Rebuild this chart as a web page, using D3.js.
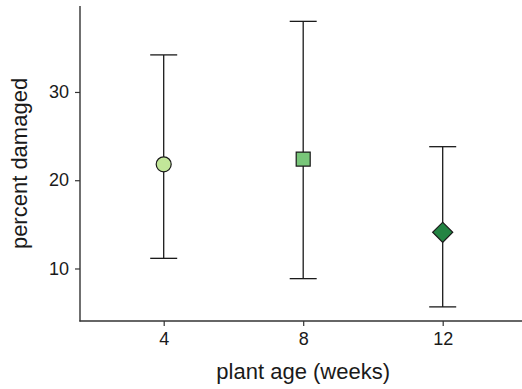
<!DOCTYPE html>
<html>
<head>
<meta charset="utf-8">
<script src="https://cdn.jsdelivr.net/npm/d3@7"></script>
<style>
  html, body { margin: 0; padding: 0; background: #fff; }
  svg { display: block; }
  text { font-family: "Liberation Sans", Arial, sans-serif; }
</style>
</head>
<body>
<svg id="chart" width="522" height="389"></svg>
<script>
const categories = ["4", "8", "12"];
const means = [21.8, 22.4, 14.1];
const lowers = [11.15, 8.85, 5.65];
const uppers = [34.2, 38.0, 23.8];
const shapes = ["circle", "square", "diamond"];
const fills = ["#c2e699", "#78c679", "#238443"];
const yTicks = [10, 20, 30];
const xTitle = "plant age (weeks)";
const yTitle = "percent damaged";

const svg = d3.select("#chart");
const mLeft = 80, mRight = 526.4, mTop = 6, mBottom = 321;

const x = d3.scalePoint().domain(categories).range([mLeft, mRight]).padding(0.6);
const y = d3.scaleLinear().domain([4.05, 39.74]).range([mBottom, mTop]);

const data = categories.map((c, i) => ({c, m: means[i], lo: lowers[i], hi: uppers[i], shape: shapes[i], fill: fills[i]}));

// axes
const xAxis = svg.append("g").attr("transform", `translate(0,${mBottom})`)
  .call(d3.axisBottom(x).tickSize(5).tickPadding(6));
const yAxis = svg.append("g").attr("transform", `translate(${mLeft},0)`)
  .call(d3.axisLeft(y).tickValues(yTicks).tickSize(5).tickPadding(6));
[xAxis, yAxis].forEach(g => {
  g.select(".domain").remove();
  g.selectAll(".tick line").attr("stroke", "#333").attr("stroke-width", 1.2);
  g.selectAll(".tick text").attr("fill", "#1a1a1a").style("font-size", "18px")
    .style("font-family", '"Liberation Sans", Arial, sans-serif');
});
// axis lines (classic theme)
svg.append("line").attr("x1", mLeft).attr("x2", mLeft).attr("y1", mTop).attr("y2", mBottom + 0.6)
  .attr("stroke", "#333").attr("stroke-width", 1.4);
svg.append("line").attr("x1", mLeft - 0.6).attr("x2", 522).attr("y1", mBottom).attr("y2", mBottom)
  .attr("stroke", "#333").attr("stroke-width", 1.4);

// error bars
const cap = 13.5;
const eb = svg.append("g");
data.forEach(d => {
  const cx = x(d.c);
  eb.append("line").attr("x1", cx).attr("x2", cx).attr("y1", y(d.hi)).attr("y2", y(d.lo))
    .attr("stroke", "#1a1a1a").attr("stroke-width", 1.3);
  [d.hi, d.lo].forEach(v => {
    eb.append("line").attr("x1", cx - cap).attr("x2", cx + cap).attr("y1", y(v)).attr("y2", y(v))
      .attr("stroke", "#1a1a1a").attr("stroke-width", 1.3);
  });
});

// points
const symMap = { circle: d3.symbolCircle, square: d3.symbolSquare, diamond: d3.symbolSquare };
const sizeMap = { circle: Math.PI * 7.5 * 7.5, square: 14 * 14, diamond: 14.2 * 14.2 };
data.forEach(d => {
  const p = svg.append("path")
    .attr("d", d3.symbol().type(symMap[d.shape]).size(sizeMap[d.shape])())
    .attr("fill", d.fill).attr("stroke", "#1a1a1a").attr("stroke-width", 1.2);
  const rot = d.shape === "diamond" ? " rotate(45)" : "";
  p.attr("transform", `translate(${x(d.c)},${y(d.m)})${rot}`);
});

// titles
svg.append("text").attr("x", (mLeft + mRight) / 2).attr("y", 379).attr("text-anchor", "middle")
  .attr("fill", "#1a1a1a").style("font-size", "22px").text(xTitle);
svg.append("text").attr("transform", `translate(27,${(mTop + mBottom) / 2}) rotate(-90)`)
  .attr("text-anchor", "middle").attr("fill", "#1a1a1a").style("font-size", "22px").text(yTitle);
</script>
</body>
</html>
